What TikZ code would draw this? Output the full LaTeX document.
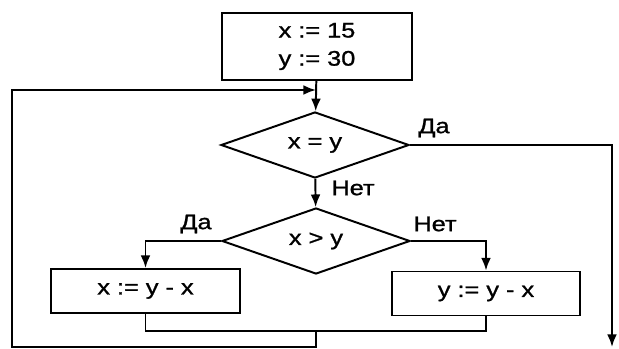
\documentclass[tikz,border=0pt]{standalone}
\usepackage{fontspec}
\setmainfont{Liberation Sans}
\newfontfamily\flowfont{Liberation Sans}[FakeStretch=1.2, FakeBold=1.2]
\usetikzlibrary{shapes.geometric, positioning, arrows.meta, calc}

\begin{document}
\begin{tikzpicture}[
    x=0.025cm, y=-0.025cm,
    line width=1.4pt,
    >={Latex[length=9pt,width=7pt]},
    block/.style={draw, rectangle, inner sep=0pt, minimum width=4.72cm, minimum height=1.1cm, align=center, font=\flowfont\fontsize{15}{20}\selectfont},
    decision/.style={draw, diamond, aspect=2.85, inner sep=0pt, minimum width=4.7cm, minimum height=1.65cm, align=center, font=\flowfont\fontsize{15}{20}\selectfont},
    answer/.style={font=\flowfont\fontsize{15}{18}\selectfont}
]
    \useasboundingbox (0,0) rectangle (619,349);

    % ================= BLOCKS =================
    \node[block, minimum width=4.75cm, minimum height=1.675cm] (init) at (317,46.5) {x := 15\\y := 30};
    \node[decision] (xeqy) at (315,145) {x = y};
    \node[decision] (xgty) at (316,241) {x > y};
    \node[block] (setx) at (145.5,291) {x := y - x};
    \node[block] (sety) at (486,293.5) {y := y - x};

    % ================= ANSWERS =================
    \node[answer] (yes1) at (434,128) {Да};
    \node[answer] (no1) at (353,188) {Нет};
    \node[answer] (yes2) at (196,224) {Да};
    \node[answer] (no2) at (435,224) {Нет};

    % ================= HELPER POINTS =================
    \coordinate (join) at (316,331);
    \coordinate (loopbot) at (12,347);
    \coordinate (loopin) at (316,90);
    \coordinate (exit) at (612,347);

    % ================= CONNECTIONS =================
    \draw[->] (init) -- (xeqy);
    \draw[->] (xeqy) -- (xgty);
    \draw[->] (xeqy.east) -| (exit);
    \draw[->] (xgty.west) -| (setx.north);
    \draw[->] (xgty.east) -| (sety.north);
    \draw (setx.south) |- (join) -| (sety.south);
    \draw[->] (join) |- (loopbot) |- (loopin);

\end{tikzpicture}
\end{document}
